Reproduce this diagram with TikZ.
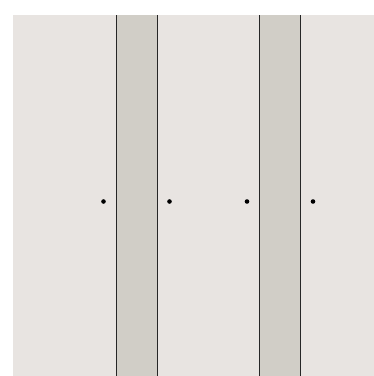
\documentclass[tikz,border=0pt]{standalone}
\usepackage{tikz}
\usetikzlibrary{positioning}
\definecolor{wallbg}{HTML}{E8E4E1}
\definecolor{slab}{HTML}{D1CEC7}
\tikzset{
  dot/.style={circle,fill=black,inner sep=0pt,minimum size=4.6pt},
  edge/.style={draw=black!85,line width=0.9pt}
}
\begin{document}
\begin{tikzpicture}[x=1pt,y=-1pt]
  \useasboundingbox (0,0) rectangle (374,376);
  % background
  \fill[wallbg] (13,15) rectangle (374,376);
  % slabs
  \foreach \xa/\xb in {116/157,259/300}{
    \fill[slab] (\xa,15) rectangle (\xb,376);
    \draw[edge] (\xa,15) -- (\xa,376);
    \draw[edge] (\xb,15) -- (\xb,376);
  }
  % points
  \node[dot] (p1) at (103.5,201.5) {};
  \node[dot] (p2) at (169.5,201.5) {};
  \node[dot] (p3) at (247,201.5) {};
  \node[dot] (p4) at (313,201.5) {};
\end{tikzpicture}
\end{document}
